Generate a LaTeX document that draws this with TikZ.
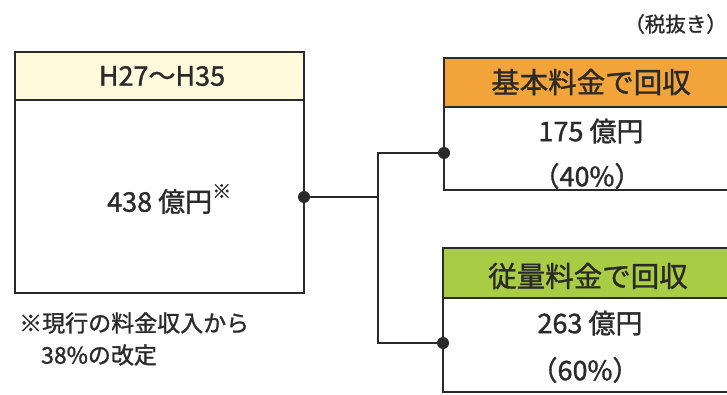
\documentclass[tikz,border=0pt]{standalone}
\usepackage{fontspec}
\setmainfont{Noto Sans CJK JP}[FakeBold=1.2]
\definecolor{cream}{HTML}{FFFADC}
\definecolor{orangeh}{HTML}{F2A43A}
\definecolor{greenh}{HTML}{A9CC45}
\definecolor{ink}{HTML}{2A2A2A}
\tikzset{
  body/.style={draw=ink, line width=2.8pt, fill=white},
  head/.style={draw=ink, line width=2.8pt},
  conn/.style={draw=ink, line width=1.5pt},
  dot/.style={circle, fill=ink, inner sep=0pt, minimum size=12pt},
  txt/.style={text=ink, inner sep=0pt, font=\fontsize{27}{30}\selectfont},
  htxt/.style={text=ink, inner sep=0pt, font=\fontsize{28.5}{32}\selectfont},
}
\begin{document}
\begin{tikzpicture}[x=1pt,y=-1pt]
\useasboundingbox (0,0) rectangle (727,395);
\clip (0,0) rectangle (727,395);
\fill[white] (0,0) rectangle (727,395);
% left box
\node[body, minimum width=289pt, minimum height=241pt] (mainbox) at (159.5,172.5) {};
\node[head, fill=cream, minimum width=289pt, minimum height=48pt] (mainhead) at (159.5,76) {};
\node[txt] (period) at (162,76) {H27〜H35};
\node[txt, anchor=west] (total) at (107,199) {438 億円\raisebox{0.5em}{\fontsize{19}{19}\selectfont ※}};
% top right box
\node[body, minimum width=316pt, minimum height=132pt] (basebox) at (602,124) {};
\node[head, fill=orangeh, minimum width=316pt, minimum height=49pt] (basehead) at (602,82.5) {};
\node[htxt] (basettl) at (591,82) {基本料金で回収};
\node[txt] (baseval) at (591,131) {175 億円};
\node[txt] (basepct) at (587,176) {（40\%）};
% bottom right box
\node[body, minimum width=317pt, minimum height=144pt] (volbox) at (601.5,320) {};
\node[head, fill=greenh, minimum width=317pt, minimum height=50pt] (volhead) at (601.5,273) {};
\node[htxt] (volttl) at (588,276) {従量料金で回収};
\node[txt] (volval) at (590,323) {263 億円};
\node[txt] (volpct) at (585,370) {（60\%）};
% tax note
\node[text=ink, inner sep=0pt, anchor=east, font=\fontsize{20.5}{24}\selectfont] (tax) at (727,24) {（税抜き）};
% footnote
\node[text=ink, inner sep=0pt, anchor=west, font=\fontsize{23}{26}\selectfont] (note1) at (19,323) {※現行の料金収入から};
\node[text=ink, inner sep=0pt, anchor=west, font=\fontsize{23}{26}\selectfont] (note2) at (41,355) {38\%の改定};
% connectors
\coordinate (d0) at (304,197);
\coordinate (d1) at (444,153);
\coordinate (d2) at (443,343);
\coordinate (ja) at (378,153);
\coordinate (jb) at (378,343);
\draw[conn] (d0) -- (d0 -| ja);
\draw[conn] (d1) -- (ja) -- (jb) -- (d2);
\node[dot] (p0) at (d0) {};
\node[dot] (p1) at (d1) {};
\node[dot] (p2) at (d2) {};
\end{tikzpicture}
\end{document}
